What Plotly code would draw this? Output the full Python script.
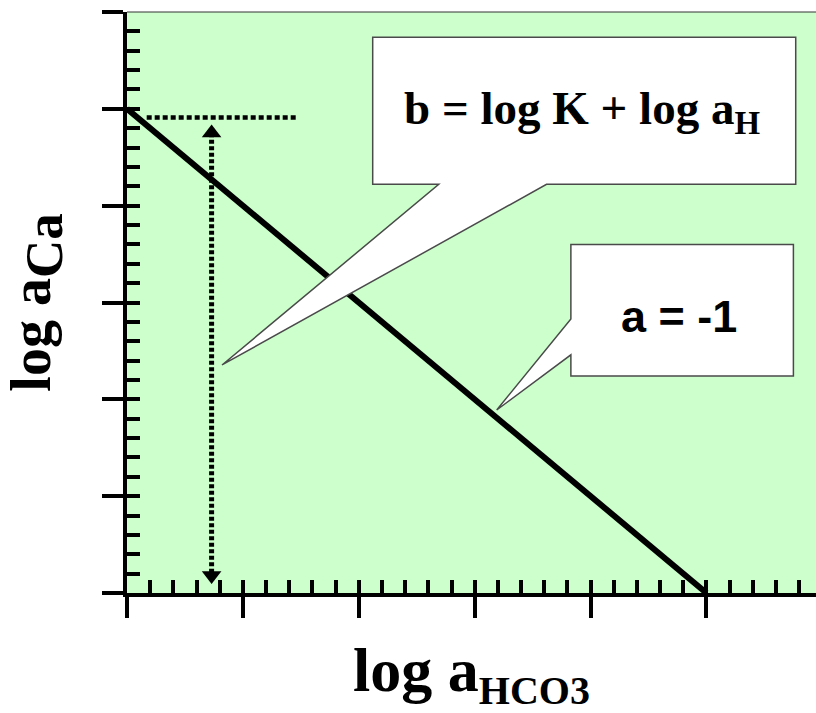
import plotly.graph_objects as go

# ---- data (axis units: one major tick = 1) ----
line_x = [0, 5]                 # log a_HCO3
line_y = [5, 0]                 # log a_Ca  (slope a = -1, intercept b = 5)
hdot_x = [0.17, 1.47]           # dotted marker of intercept b
hdot_y = [4.91, 4.91]
arrow_x = [0.73, 0.73]          # dotted double arrow showing b
arrow_y = [0.21, 4.72]
arrow_heads_y = [0.18, 4.75]

x_range = [0, 5.945]
y_range = [0, 6]

callout1_text = "b = log K + log a<sub>H</sub>"
callout2_text = "a = -1"
x_title = "log a<sub><span style='font-size:40px;font-weight:bold'>HCO3</span></sub>"
y_title = "log a<sub><span style='font-size:53px;font-weight:bold'>Ca</span></sub>"

GREEN = "#CCFFCC"
SERIF = "Liberation Serif"
SANS = "Liberation Sans"

fig = go.Figure()

fig.add_trace(go.Scatter(x=line_x, y=line_y, mode="lines",
                         line=dict(color="black", width=6), hoverinfo="skip"))
fig.add_trace(go.Scatter(x=hdot_x, y=hdot_y, mode="lines",
                         line=dict(color="black", width=4.5, dash="5px,3px"), hoverinfo="skip"))
fig.add_trace(go.Scatter(x=arrow_x, y=arrow_y, mode="lines",
                         line=dict(color="black", width=5, dash="4px,2.5px"), hoverinfo="skip"))
fig.add_trace(go.Scatter(x=arrow_x, y=arrow_heads_y, mode="markers",
                         marker=dict(symbol=["triangle-down", "triangle-up"], size=17,
                                     color="black", line=dict(width=0)),
                         hoverinfo="skip"))
# invisible trace so the overlay (minor-tick) axes are drawn
fig.add_trace(go.Scatter(x=[None], y=[None], xaxis="x2", yaxis="y2",
                         mode="markers", hoverinfo="skip"))

# callout 1 : box with tail from its bottom edge
b1 = dict(l=2.12, r=5.77, t=5.74, b=4.22)
tail1 = dict(a=2.69, c=3.62, tipx=0.82, tipy=2.355)
p1 = (f"M {b1['l']},{b1['t']} L {b1['r']},{b1['t']} L {b1['r']},{b1['b']} "
      f"L {tail1['c']},{b1['b']} L {tail1['tipx']},{tail1['tipy']} "
      f"L {tail1['a']},{b1['b']} L {b1['l']},{b1['b']} Z")
# callout 2 : box with tail from its left edge
b2 = dict(l=3.83, r=5.75, t=3.60, b=2.24)
tail2 = dict(a=2.83, c=2.46, tipx=3.19, tipy=1.89)
p2 = (f"M {b2['l']},{b2['t']} L {b2['r']},{b2['t']} L {b2['r']},{b2['b']} "
      f"L {b2['l']},{b2['b']} L {b2['l']},{tail2['c']} L {tail2['tipx']},{tail2['tipy']} "
      f"L {b2['l']},{tail2['a']} Z")

shapes = [
    dict(type="path", path=p1, xref="x", yref="y", fillcolor="white",
         line=dict(color="#4a4a4a", width=1.5), layer="above"),
    dict(type="path", path=p2, xref="x", yref="y", fillcolor="white",
         line=dict(color="#4a4a4a", width=1.5), layer="above"),
    dict(type="line", xref="paper", yref="paper", x0=0, x1=1, y0=1, y1=1,
         line=dict(color="#333333", width=1)),
]

annotations = [
    dict(x=3.93, y=4.97, xref="x", yref="y", text=callout1_text, showarrow=False,
         font=dict(family=SERIF, size=47, color="black", weight="bold")),
    dict(x=4.76, y=2.86, xref="x", yref="y", text=callout2_text, showarrow=False,
         font=dict(family=SANS, size=45, color="black", weight="bold")),
]

axis_common = dict(showgrid=False, zeroline=False, showticklabels=False,
                   tickmode="linear", tick0=0, tickcolor="black", fixedrange=True)

fig.update_layout(
    width=816, height=713,
    margin=dict(l=127, r=0, t=12, b=120, pad=0),
    paper_bgcolor="white", plot_bgcolor=GREEN,
    showlegend=False,
    shapes=shapes, annotations=annotations,
    xaxis=dict(range=x_range, dtick=1, ticks="outside", ticklen=21, tickwidth=4,
               showline=True, linecolor="black", linewidth=4,
               title=dict(text=x_title, standoff=37,
                          font=dict(family=SERIF, size=62, color="black", weight="bold")),
               **axis_common),
    yaxis=dict(range=y_range, dtick=1, ticks="outside", ticklen=21, tickwidth=4,
               showline=True, linecolor="black", linewidth=4,
               title=dict(text=y_title, standoff=38,
                          font=dict(family=SERIF, size=56, color="black", weight="bold")),
               **axis_common),
    xaxis2=dict(range=x_range, dtick=0.2, ticks="inside", ticklen=13, tickwidth=4,
                overlaying="x", anchor="y", side="bottom", showline=False,
                **axis_common),
    yaxis2=dict(range=y_range, dtick=0.2, ticks="inside", ticklen=13, tickwidth=4,
                overlaying="y", anchor="x", side="left", showline=False,
                **axis_common),
)

fig.write_html("out.html", config={"displayModeBar": False},
               post_script="document.body.style.margin='0';")
